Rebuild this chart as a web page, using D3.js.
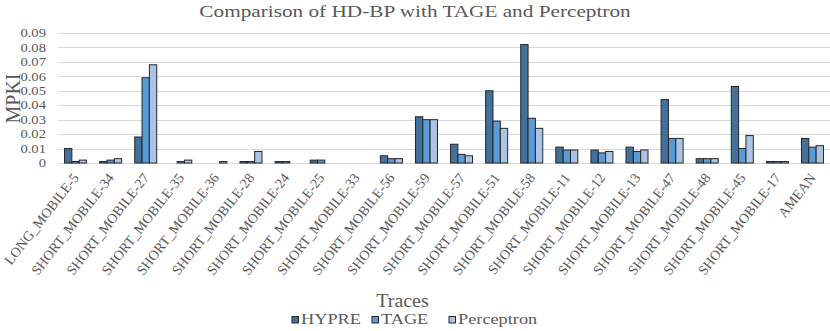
<!DOCTYPE html>
<html>
<head>
<meta charset="utf-8">
<script src="https://cdnjs.cloudflare.com/ajax/libs/d3/7.8.5/d3.min.js"></script>
<style>
  body { margin: 0; background: #fff; }
</style>
</head>
<body>
<svg id="chart" width="830" height="331"></svg>
<script>
const traces = ['LONG_MOBILE-5', 'SHORT_MOBILE-34', 'SHORT_MOBILE-27', 'SHORT_MOBILE-35', 'SHORT_MOBILE-36',
  'SHORT_MOBILE-28', 'SHORT_MOBILE-24', 'SHORT_MOBILE-25', 'SHORT_MOBILE-33', 'SHORT_MOBILE-56',
  'SHORT_MOBILE-59', 'SHORT_MOBILE-57', 'SHORT_MOBILE-51', 'SHORT_MOBILE-58', 'SHORT_MOBILE-11',
  'SHORT_MOBILE-12', 'SHORT_MOBILE-13', 'SHORT_MOBILE-47', 'SHORT_MOBILE-48', 'SHORT_MOBILE-45',
  'SHORT_MOBILE-17', 'AMEAN']
const seriesNames = ['HYPRE', 'TAGE', 'Perceptron']
const hypre = [0.010, 0.001, 0.018, 0, 0, 0.001, 0.001, 0.002, 0, 0.005, 0.032, 0.013, 0.050, 0.082, 0.011, 0.009, 0.011, 0.044, 0.003, 0.053, 0.001, 0.017]
const tage = [0.001, 0.002, 0.059, 0.001, 0, 0.001, 0.001, 0.002, 0, 0.003, 0.030, 0.006, 0.029, 0.031, 0.009, 0.007, 0.008, 0.017, 0.003, 0.010, 0.001, 0.011]
const perceptron = [0.002, 0.003, 0.068, 0.002, 0.001, 0.008, 0, 0, 0, 0.003, 0.030, 0.005, 0.024, 0.024, 0.009, 0.008, 0.009, 0.017, 0.003, 0.019, 0.001, 0.012]
const yTicks = [0, 0.01, 0.02, 0.03, 0.04, 0.05, 0.06, 0.07, 0.08, 0.09]
const colors = ['#41719c', '#5b9bd5', '#a9c4e6']

const FONT = '"Liberation Serif", "DejaVu Serif"'
const svg = d3.select('#chart')
const plotLeft = 58, plotRight = 830, plotTop = 33, plotBottom = 163

const x = d3.scaleBand().domain(traces).range([plotLeft, plotRight]).paddingInner(0.373).paddingOuter(0.186)
const xs = d3.scaleBand().domain(seriesNames).range([0, x.bandwidth()])
const y = d3.scaleLinear().domain([0, 0.09]).range([plotBottom, plotTop])

// the source picture is stretched sideways, so horizontal texts get a scaleX
function label(sel, size) {
  return sel.attr('font-family', FONT).attr('fill', '#595959').attr('font-size', size)
}

// title
label(svg.append('text'), 17)
  .attr('transform', 'translate(415,17) scale(1.25,1)')
  .attr('text-anchor', 'middle')
  .text('Comparison of HD-BP with TAGE and Perceptron')

// gridlines
svg.append('g')
  .selectAll('line')
  .data(yTicks)
  .enter()
  .append('line')
  .attr('x1', plotLeft)
  .attr('x2', plotRight)
  .attr('y1', d => Math.round(y(d)) + 0.5)
  .attr('y2', d => Math.round(y(d)) + 0.5)
  .attr('stroke', '#d9d9d9')
  .attr('stroke-width', 1)

// y tick labels
label(svg.append('g')
  .selectAll('text')
  .data(yTicks)
  .enter()
  .append('text'), 12)
  .attr('transform', d => 'translate(46,' + y(d) + ') scale(1.22,1)')
  .attr('dy', '0.35em')
  .attr('text-anchor', 'end')
  .text(d => d === 0 ? '0' : d3.format('.2f')(d))

// y axis title
label(svg.append('text'), 20)
  .attr('transform', 'translate(20,' + ((plotTop + plotBottom) / 2 + 0.5) + ') rotate(-90)')
  .attr('text-anchor', 'middle')
  .text('MPKI')

// bars
const allSeries = [hypre, tage, perceptron]
seriesNames.forEach(function(name, si) {
  const rows = allSeries[si].map((v, i) => ({trace: traces[i], value: v})).filter(d => d.value > 0)
  svg.append('g')
    .selectAll('rect')
    .data(rows)
    .enter()
    .append('rect')
    .attr('x', d => x(d.trace) + xs(name))
    .attr('y', d => y(d.value))
    .attr('width', xs.bandwidth())
    .attr('height', d => plotBottom - y(d.value))
    .attr('fill', colors[si])
    .attr('stroke', '#262626')
    .attr('stroke-width', 1)
})

// x labels
label(svg.append('g')
  .selectAll('text')
  .data(traces)
  .enter()
  .append('text'), 14)
  .attr('transform', d => 'translate(' + (x(d) + x.bandwidth() / 2 + 4) + ',178) rotate(-52)')
  .attr('text-anchor', 'end')
  .text(d => d)

// x axis title
label(svg.append('text'), 19)
  .attr('transform', 'translate(402.5,307) scale(1.05,1)')
  .attr('text-anchor', 'middle')
  .text('Traces')

// legend
const legendX = [292, 372, 449]
const legend = svg.append('g')
  .selectAll('g')
  .data(seriesNames)
  .enter()
  .append('g')
  .attr('transform', (d, i) => 'translate(' + legendX[i] + ',316.5)')
legend.append('rect')
  .attr('width', 6.5)
  .attr('height', 6.5)
  .attr('fill', (d, i) => colors[i])
  .attr('stroke', '#262626')
label(legend.append('text'), 15)
  .attr('transform', 'translate(9,7.5) scale(1.22,1)')
  .text(d => d)
</script>
</body>
</html>
